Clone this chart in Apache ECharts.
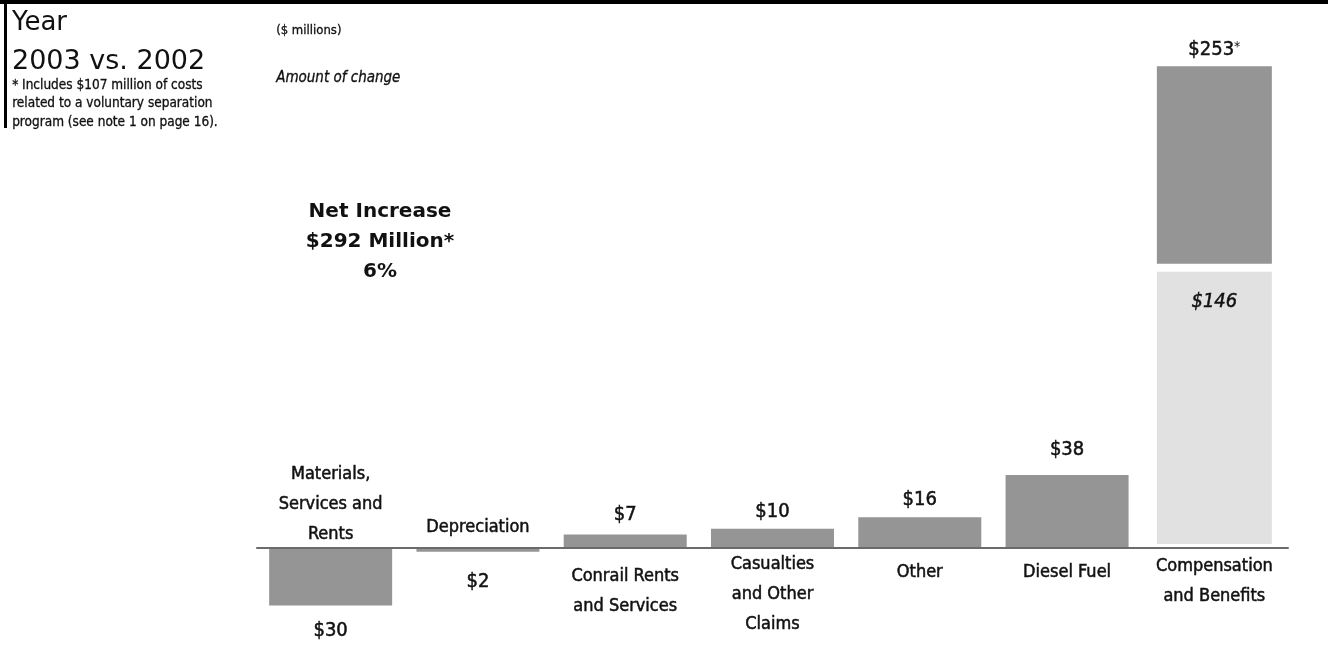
<!DOCTYPE html>
<html>
<head>
<meta charset="utf-8">
<script src="https://cdn.jsdelivr.net/npm/echarts/dist/echarts.min.js"></script>
<style>
  html, body { margin: 0; padding: 0; background: #ffffff; }
  #chart { width: 1328px; height: 647px; }
</style>
</head>
<body>
<div id="chart"></div>
<script>
// Operating expense changes, 2003 vs. 2002 ($ millions)
const categories = [
  'Materials,\nServices and\nRents',
  'Depreciation',
  'Conrail Rents\nand Services',
  'Casualties\nand Other\nClaims',
  'Other',
  'Diesel Fuel',
  'Compensation\nand Benefits'
];
// Change per category; compensation shown without the separation program costs
const changes = [-30, -2, 7, 10, 16, 38, 146];
// Voluntary separation program costs, stacked on top of compensation
const separationCosts = ['-', '-', '-', '-', '-', '-', 107];

const yMin = -40;
const yMax = 260;

// Label placement (layout only)
const valueLabelGap = [15, 20, 10, 7, 7, 15, 24];
const nameOffsets = [-43, -20, 44, 47, 25, 25, 34];

const NARROW = "'Liberation Sans Narrow', 'DejaVu Sans Condensed', 'Arial Narrow', sans-serif";
const TITLE = "'DejaVu Sans', 'Noto Sans', sans-serif";
const DARK = '#959595';
const LIGHT = '#e1e1e1';
const INK = '#111111';
// thin outline that gives the condensed face a medium weight
const WEIGHT = { textBorderColor: INK, textBorderWidth: 0.5 };

const lastIdx = changes.length - 1;

const barData = changes.map((v, i) => {
  if (i === lastIdx) {
    return {
      value: v,
      itemStyle: { color: LIGHT, borderColor: '#ffffff', borderWidth: 4 },
      label: {
        show: true,
        position: 'insideTop',
        distance: valueLabelGap[i],
        fontStyle: 'italic',
        formatter: '$' + Math.abs(v)
      }
    };
  }
  return {
    value: v,
    label: {
      show: true,
      position: v < 0 ? 'bottom' : 'top',
      distance: valueLabelGap[i],
      formatter: '$' + Math.abs(v)
    }
  };
});

const sepData = separationCosts.map((v, i) => {
  if (v === '-') return '-';
  const total = changes[i] + v;
  return {
    value: v,
    label: {
      show: true,
      position: 'top',
      distance: 2,
      formatter: '{v|$' + total + '}{s|*}',
      rich: {
        v: Object.assign({ fontFamily: NARROW, fontSize: 20, color: INK, lineHeight: 20 }, WEIGHT),
        s: { fontFamily: NARROW, fontSize: 14, color: INK, lineHeight: 20, padding: [0, 0, 6, 0] }
      }
    }
  };
});

const nameData = categories.map((c, i) => ({
  value: [i, 0],
  label: { offset: [0, nameOffsets[i]] }
}));

const chart = echarts.init(document.getElementById('chart'), null, { renderer: 'canvas' });

chart.setOption({
  animation: false,
  backgroundColor: '#ffffff',
  grid: { left: 257, right: 40, top: 48.8, height: 576, containLabel: false },
  xAxis: {
    type: 'category',
    data: categories,
    z: 5,
    axisLine: { show: true, onZero: true, lineStyle: { color: '#6b6b6b', width: 2 } },
    axisTick: { show: false },
    axisLabel: { show: false },
    splitLine: { show: false }
  },
  yAxis: {
    type: 'value',
    min: yMin,
    max: yMax,
    show: false,
    splitLine: { show: false }
  },
  series: [
    {
      name: 'Change',
      type: 'bar',
      stack: 'total',
      barWidth: 123,
      barGap: '-100%',
      itemStyle: { color: DARK },
      label: Object.assign({ fontFamily: NARROW, fontSize: 20, color: INK, lineHeight: 20 }, WEIGHT),
      data: barData,
      z: 3
    },
    {
      name: 'Separation program',
      type: 'bar',
      stack: 'total',
      barWidth: 123,
      itemStyle: { color: DARK, borderColor: '#ffffff', borderWidth: 4 },
      data: sepData,
      z: 3
    },
    {
      name: 'Category',
      type: 'scatter',
      symbolSize: 1,
      itemStyle: { color: 'rgba(255,255,255,0)' },
      silent: true,
      label: Object.assign({
        show: true,
        position: 'top',
        distance: 0,
        formatter: (p) => categories[p.dataIndex],
        fontFamily: NARROW,
        fontSize: 18,
        lineHeight: 30,
        color: INK,
        opacity: 1,
        align: 'center',
        verticalAlign: 'middle'
      }, WEIGHT),
      data: nameData,
      z: 6
    }
  ],
  graphic: [
    { type: 'rect', left: 0, top: 0, shape: { width: 1328, height: 4 }, style: { fill: '#000' } },
    { type: 'rect', left: 4, top: 0, shape: { width: 3, height: 128 }, style: { fill: '#000' } },
    { type: 'text', left: 12, top: 10, style: { text: 'Year', font: '26px ' + TITLE, fill: INK } },
    { type: 'text', left: 12, top: 48, style: { text: '2003 vs. 2002', font: '27px ' + TITLE, fill: INK } },
    {
      type: 'text', left: 12, top: 76,
      style: Object.assign({
        text: '* Includes $107 million of costs\nrelated to a voluntary separation\nprogram (see note 1 on page 16).',
        font: '13.5px ' + NARROW, lineHeight: 18.5, fill: INK
      }, { stroke: INK, lineWidth: 0.3 })
    },
    { type: 'text', left: 276, top: 24, style: { text: '($ millions)', font: '13px ' + NARROW, fill: INK, stroke: INK, lineWidth: 0.3 } },
    { type: 'text', left: 276, top: 70, style: { text: 'Amount of change', font: 'italic 15px ' + NARROW, fill: INK, stroke: INK, lineWidth: 0.3 } },
    {
      type: 'text', x: 380, y: 197,
      style: {
        text: 'Net Increase\n$292 Million*\n6%',
        font: 'bold 20px ' + TITLE, lineHeight: 30, fill: INK, align: 'center'
      }
    }
  ]
});
</script>
</body>
</html>
